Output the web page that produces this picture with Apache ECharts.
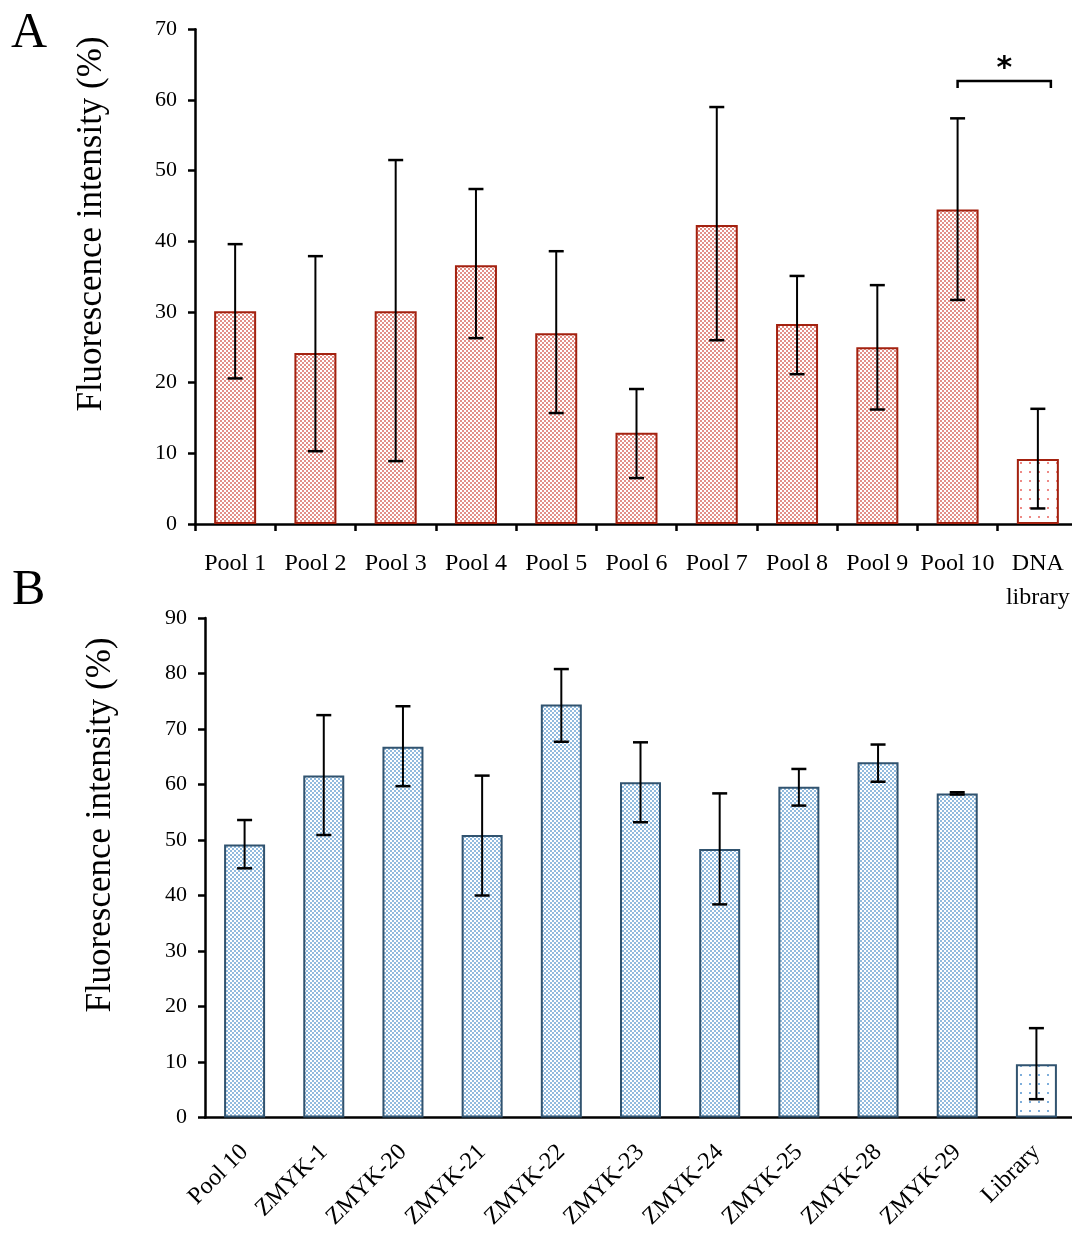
<!DOCTYPE html>
<html>
<head>
<meta charset="utf-8">
<script src="https://cdn.jsdelivr.net/npm/echarts@6/dist/echarts.min.js"></script>
<style>
html,body{margin:0;padding:0;background:#fff;overflow:hidden;}
#chart{width:1090px;height:1234px;}
</style>
</head>
<body>
<div id="chart"></div>
<script>
// ---- Data ----
const catsA = ['Pool 1','Pool 2','Pool 3','Pool 4','Pool 5','Pool 6','Pool 7','Pool 8','Pool 9','Pool 10','DNA\nlibrary'];
const meanA = [30.1, 24.2, 30.1, 36.6, 27.0, 12.9, 42.3, 28.3, 25.0, 44.5, 9.2];
const lowA  = [20.6, 10.3,  8.9, 26.3, 15.7,  6.5, 26.0, 21.2, 16.2, 31.7, 2.2];
const highA = [39.6, 37.9, 51.5, 47.4, 38.6, 19.1, 59.0, 35.1, 33.8, 57.4, 16.3];

const catsB = ['Pool 10','ZMYK-1','ZMYK-20','ZMYK-21','ZMYK-22','ZMYK-23','ZMYK-24','ZMYK-25','ZMYK-28','ZMYK-29','Library'];
const meanB = [49.2, 61.6, 66.8, 50.9, 74.4, 60.4, 48.4, 59.6, 64.0, 58.4, 9.6];
const lowB  = [44.9, 50.9, 59.7, 40.0, 67.7, 53.2, 38.4, 56.2, 60.5, 58.2, 3.3];
const highB = [53.6, 72.5, 74.1, 61.6, 80.8, 67.6, 58.4, 62.8, 67.2, 58.6, 16.1];

const yTicksA = {min: 0, max: 70, interval: 10};
const yTicksB = {min: 0, max: 90, interval: 10};
const yTitle = 'Fluorescence intensity (%)';

// significance bracket between Pool 10 and DNA library
const sigPair = [9, 10];
const sigLevel = 62.7;
const sigLabel = '*';

// ---- Patterns ----
function checker(c1) {
  const cv = document.createElement('canvas');
  cv.width = 4; cv.height = 4;
  const ctx = cv.getContext('2d');
  ctx.fillStyle = '#ffffff'; ctx.fillRect(0,0,4,4);
  ctx.fillStyle = c1;
  ctx.fillRect(0,0,2,2); ctx.fillRect(2,2,2,2);
  return cv;
}
function dots(c1) {
  const cv = document.createElement('canvas');
  cv.width = 9; cv.height = 9;
  const ctx = cv.getContext('2d');
  ctx.fillStyle = '#ffffff'; ctx.fillRect(0,0,9,9);
  ctx.fillStyle = c1;
  ctx.fillRect(3,3,2,2);
  return cv;
}
const fillA = {image: checker('#e28f88'), repeat: 'repeat'};
const fillADots = {image: dots('#ee8a86'), repeat: 'repeat'};
const fillB = {image: checker('#92bbde'), repeat: 'repeat'};
const fillBDots = {image: dots('#7eaedb'), repeat: 'repeat'};

const FONT = "'Liberation Serif','Times New Roman',serif";

function errRender(params, api) {
  const x = api.value(0), lo = api.value(1), hi = api.value(2);
  const p1 = api.coord([x, lo]);
  const p2 = api.coord([x, hi]);
  const w = 7.5;
  return {
    type: 'group',
    children: [
      {type: 'line', shape: {x1: p1[0], y1: p1[1], x2: p2[0], y2: p2[1]}, style: {stroke: '#000', lineWidth: 2}},
      {type: 'line', shape: {x1: p1[0]-w, y1: p1[1], x2: p1[0]+w, y2: p1[1]}, style: {stroke:'#000', lineWidth: 2.5}},
      {type: 'line', shape: {x1: p2[0]-w, y1: p2[1], x2: p2[0]+w, y2: p2[1]}, style: {stroke:'#000', lineWidth: 2.5}}
    ]
  };
}

function sigRender(params, api) {
  const a = api.coord([api.value(0), api.value(2)]);
  const b = api.coord([api.value(1), api.value(2)]);
  const x1 = a[0], x2 = b[0] + 13, y = a[1];
  return {
    type: 'group',
    children: [
      {type: 'polyline', shape: {points: [[x1, y+7],[x1, y],[x2, y],[x2, y+7]]}, style: {stroke: '#000', lineWidth: 2.5, fill: null}},
      {type: 'text', style: {text: sigLabel, x: (x1+x2)/2, y: y + 3, align: 'center', verticalAlign: 'bottom', font: "bold 30px 'DejaVu Sans', sans-serif", fill: '#000'}}
    ]
  };
}

const axisLineStyle = {color: '#000', width: 2.5};

const chart = echarts.init(document.getElementById('chart'), null, {renderer: 'canvas'});
const option = {
  animation: false,
  backgroundColor: '#fff',
  graphic: [
    {type: 'text', left: 11, top: 9, style: {text: 'A', font: '50px ' + FONT, fill: '#000'}},
    {type: 'text', left: 12, top: 566, style: {text: 'B', font: '50px ' + FONT, fill: '#000'}},
    {type: 'text', x: 92, y: 224, rotation: Math.PI / 2,
      style: {text: yTitle, font: '35px ' + FONT, fill: '#000', align: 'center', verticalAlign: 'middle'}},
    {type: 'text', x: 101, y: 825, rotation: Math.PI / 2,
      style: {text: yTitle, font: '35px ' + FONT, fill: '#000', align: 'center', verticalAlign: 'middle'}}
  ],
  grid: [
    {left: 195, top: 29.3, width: 883, height: 494.7, containLabel: false},
    {left: 205, top: 618, width: 871, height: 499.5, containLabel: false}
  ],
  xAxis: [
    {
      type: 'category', gridIndex: 0, data: catsA,
      axisLine: {lineStyle: axisLineStyle},
      axisTick: {show: true, length: 7, lineStyle: {color: '#000', width: 2.5}},
      axisLabel: {color: '#000', fontFamily: FONT, fontSize: 24, margin: 23, lineHeight: 34, interval: 0}
    },
    {
      type: 'category', gridIndex: 1, data: catsB,
      axisLine: {lineStyle: axisLineStyle},
      axisTick: {show: false},
      axisLabel: {color: '#000', fontFamily: FONT, fontSize: 24, margin: 31, rotate: 45, interval: 0}
    }
  ],
  yAxis: [
    {
      type: 'value', gridIndex: 0, min: yTicksA.min, max: yTicksA.max, interval: yTicksA.interval,
      axisLine: {show: true, lineStyle: axisLineStyle},
      axisTick: {show: true, length: 7, lineStyle: {color: '#000', width: 2.5}},
      axisLabel: {color: '#000', fontFamily: FONT, fontSize: 22, margin: 18},
      splitLine: {show: false}
    },
    {
      type: 'value', gridIndex: 1, min: yTicksB.min, max: yTicksB.max, interval: yTicksB.interval,
      axisLine: {show: true, lineStyle: axisLineStyle},
      axisTick: {show: true, length: 7, lineStyle: {color: '#000', width: 2.5}},
      axisLabel: {color: '#000', fontFamily: FONT, fontSize: 22, margin: 18},
      splitLine: {show: false}
    }
  ],
  series: [
    {
      type: 'bar', xAxisIndex: 0, yAxisIndex: 0, barWidth: 42,
      data: meanA.map((v, i) => ({value: v, itemStyle: {color: i === meanA.length - 1 ? fillADots : fillA}})),
      itemStyle: {borderColor: '#a3210f', borderWidth: 2}
    },
    {
      type: 'custom', xAxisIndex: 0, yAxisIndex: 0, z: 5,
      renderItem: errRender,
      encode: {x: 0, y: [1, 2]},
      data: meanA.map((v, i) => [i, lowA[i], highA[i]])
    },
    {
      type: 'custom', xAxisIndex: 0, yAxisIndex: 0, z: 5,
      renderItem: sigRender,
      encode: {x: [0, 1], y: 2},
      data: [[sigPair[0], sigPair[1], sigLevel]]
    },
    {
      type: 'bar', xAxisIndex: 1, yAxisIndex: 1, barWidth: 41,
      data: meanB.map((v, i) => ({value: v, itemStyle: {color: i === meanB.length - 1 ? fillBDots : fillB}})),
      itemStyle: {borderColor: '#31536f', borderWidth: 2}
    },
    {
      type: 'custom', xAxisIndex: 1, yAxisIndex: 1, z: 5,
      renderItem: errRender,
      encode: {x: 0, y: [1, 2]},
      data: meanB.map((v, i) => [i, lowB[i], highB[i]])
    }
  ]
};
chart.setOption(option);
</script>
</body>
</html>
